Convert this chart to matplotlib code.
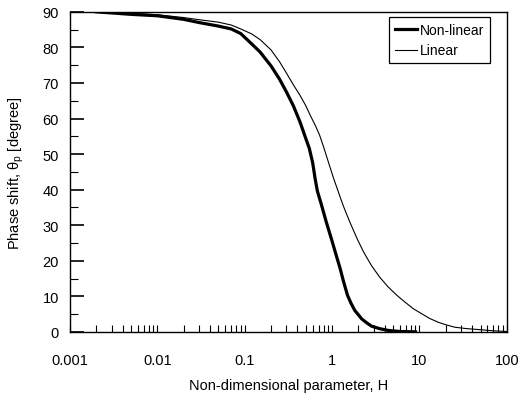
import matplotlib.pyplot as plt
import numpy as np
from matplotlib.ticker import LogLocator, NullFormatter, FixedLocator

plt.rcParams['font.family'] = ['Liberation Sans', 'DejaVu Sans']
plt.rcParams['mathtext.fontset'] = 'custom'
plt.rcParams['mathtext.rm'] = 'Liberation Sans'

FONT_SIZE = 10.5

# Non-linear (thick)
h_nl = [0.002, 0.003, 0.005, 0.01, 0.02, 0.03, 0.05, 0.07, 0.09, 0.12, 0.15,
        0.2, 0.25, 0.3, 0.36, 0.43, 0.49, 0.55, 0.6, 0.64, 0.68, 0.75, 0.86, 1.0,
        1.1, 1.23, 1.35, 1.5, 1.65, 1.82, 2.0, 2.17, 2.5, 2.83, 3.5, 4.4, 6.0, 9.0]
th_nl = [90.0, 89.7, 89.3, 88.9, 87.9, 87.0, 86.0, 85.2, 83.9, 81.0, 78.7,
         74.8, 71.1, 67.5, 63.6, 59.0, 55.0, 51.5, 47.5, 43.0, 39.5, 36.0, 30.8, 25.5,
         22.0, 18.0, 14.2, 10.3, 8.0, 6.0, 4.8, 3.7, 2.5, 1.6, 0.9, 0.4, 0.1, 0.0]

# Linear (thin)
h_l = [0.002, 0.005, 0.01, 0.02, 0.03, 0.05, 0.07, 0.088, 0.12, 0.15, 0.2,
       0.25, 0.3, 0.36, 0.43, 0.5, 0.56, 0.65, 0.72, 0.8, 0.9, 1.03, 1.17,
       1.34, 1.6, 1.95, 2.3, 2.83, 3.5, 4.39, 5.5, 6.8, 8.5, 10.6, 13.0,
       16.4, 20.0, 25.4, 35.0, 50.0, 70.0, 100.0]
th_l = [90.0, 89.6, 89.2, 88.4, 87.8, 87.1, 86.3, 85.3, 83.8, 82.2, 79.3,
        76.0, 72.8, 69.5, 66.5, 63.6, 61.0, 57.8, 55.3, 52.0, 48.0, 43.5, 39.6,
        35.5, 30.8, 26.0, 22.4, 18.6, 15.4, 12.6, 10.3, 8.4, 6.5, 5.1, 3.8,
        2.7, 2.0, 1.3, 0.9, 0.6, 0.3, 0.1]

fig, ax = plt.subplots(figsize=(5.22, 4.02), dpi=100)
fig.subplots_adjust(left=0.134, right=0.971, top=0.968, bottom=0.172)

ax.plot(h_nl, th_nl, color='black', linewidth=2.3, label='Non-linear')
ax.plot(h_l, th_l, color='black', linewidth=0.8, label='Linear')

ax.set_xscale('log')
ax.set_xlim(0.001, 100)
ax.set_ylim(0, 90)
ax.set_xticks([0.001, 0.01, 0.1, 1, 10, 100])
ax.set_xticklabels(['0.001', '0.01', '0.1', '1', '10', '100'], fontsize=FONT_SIZE)
ax.xaxis.set_minor_locator(LogLocator(base=10, subs=np.arange(2, 10)))
ax.xaxis.set_minor_formatter(NullFormatter())
ax.set_yticks(np.arange(0, 91, 10))
ax.yaxis.set_minor_locator(FixedLocator(np.arange(5, 90, 10)))
ax.tick_params(axis='y', labelsize=FONT_SIZE)

ax.tick_params(axis='x', which='both', direction='in', length=5, width=0.8, pad=15)
ax.tick_params(axis='y', which='major', direction='in', length=10, width=1.2, pad=8)
ax.tick_params(axis='y', which='minor', direction='in', length=6, width=0.8)

for sp in ax.spines.values():
    sp.set_linewidth(1.0)

ax.set_xlabel('Non-dimensional parameter, H', fontsize=FONT_SIZE, labelpad=8)
ax.set_ylabel(r'Phase shift, θ$_\mathregular{p}$ [degree]', fontsize=FONT_SIZE, labelpad=12)

leg = ax.legend(loc='upper right', bbox_to_anchor=(0.961, 0.984), borderaxespad=0,
                fontsize=10, fancybox=False, edgecolor='black', framealpha=1,
                handlelength=1.6, handletextpad=0.2, labelspacing=0.5)
leg.get_frame().set_linewidth(0.9)

plt.savefig('out.png')
